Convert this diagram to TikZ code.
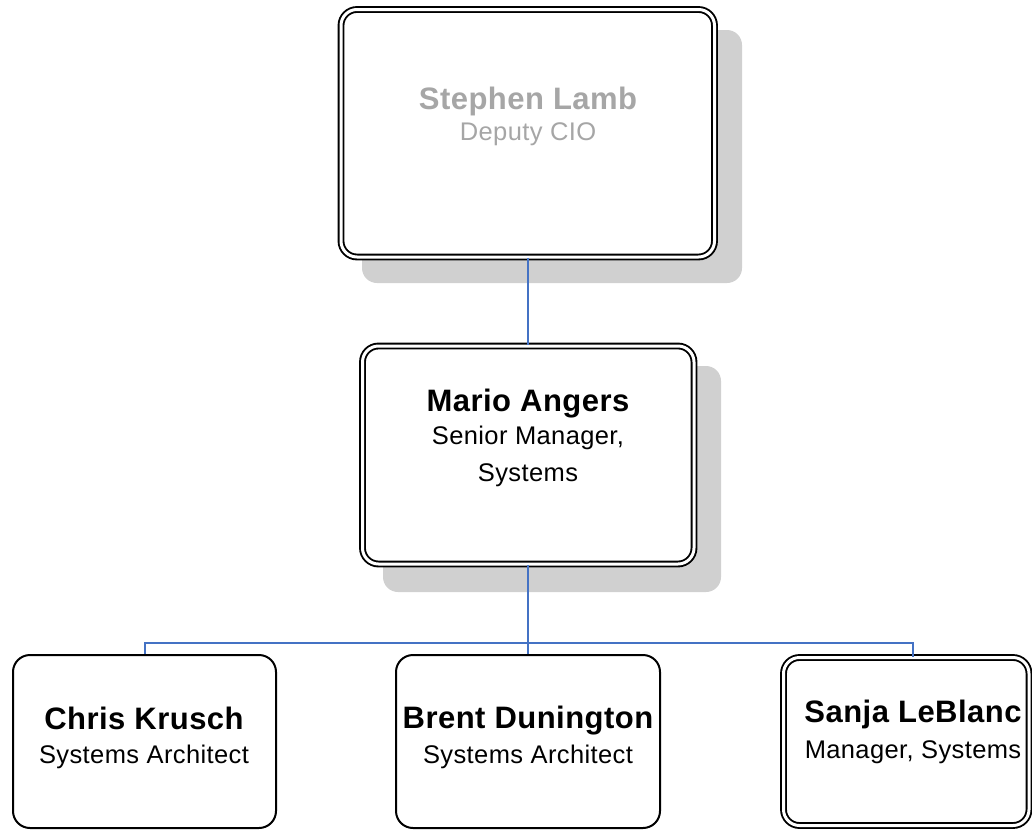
\documentclass[tikz,border=0pt]{standalone}
\usepackage{fontspec}
\setmainfont{Liberation Sans}[LetterSpace=1.5]
\usetikzlibrary{calc}
\definecolor{conn}{RGB}{68,114,196}
\definecolor{shadowgray}{RGB}{208,208,208}
\definecolor{dimtext}{RGB}{166,166,166}
\tikzset{
  sbox/.style={draw=black, line width=2pt, fill=white, rounded corners=17pt, inner sep=0pt},
  dbox/.style={draw=black, line width=1.9pt, double=white, double distance=3pt, fill=white, rounded corners=16pt, inner sep=0pt},
  shade/.style={fill=shadowgray, rounded corners=15pt},
  link/.style={draw=conn, line width=2pt},
  nametext/.style={anchor=base, inner sep=0pt, font=\bfseries\fontsize{31}{36}\selectfont},
  roletext/.style={anchor=base, inner sep=0pt, font=\fontsize{25.5}{30}\selectfont}
}
\begin{document}
\begin{tikzpicture}[x=1pt,y=-1pt]
\useasboundingbox (0,0) rectangle (1032,830);
% shadows
\fill[shade] (362,30) rectangle (742,283);
\fill[shade] (383,366) rectangle (721,592);
% boxes
\node[dbox, minimum width=373.5pt, minimum height=247.5pt] (b1) at (527.75,133.25) {};
\node[dbox, minimum width=331.5pt, minimum height=218pt] (b2) at (528.25,455) {};
\node[sbox, minimum width=263pt, minimum height=173pt] (b3) at (144.5,741.5) {};
\node[sbox, minimum width=264pt, minimum height=173pt] (b4) at (528,741.5) {};
\node[dbox, minimum width=245.5pt, minimum height=168pt] (b5) at (906.25,741.5) {};
% connectors
\coordinate (bus) at (528,643);
\coordinate (sanjatop) at ($(b5.north)+(6.75,0)$);
\draw[link] (b1.south) -- (b1.south |- b2.north);
\draw[link] (b2.south) -- (b2.south |- b4.north);
\draw[link] (bus) -| (b3.north);
\draw[link] (bus) -| (sanjatop);
% texts
\node[nametext, text=dimtext] (n1) at (528,109) {Stephen Lamb};
\node[roletext, text=dimtext] (r1) at (528,140) {Deputy CIO};
\node[nametext] (n2) at (528,411) {Mario Angers};
\node[roletext] (r2a) at (528,444) {Senior Manager,};
\node[roletext] (r2b) at (528,481) {Systems};
\node[nametext] (n3) at (144,729) {Chris Krusch};
\node[roletext] (r3) at (144,763) {Systems Architect};
\node[nametext] (n4) at (528,728) {Brent Dunington};
\node[roletext] (r4) at (528,763) {Systems Architect};
\node[nametext] (n5) at (913,722) {Sanja LeBlanc};
\node[roletext] (r5) at (913,758) {Manager, Systems};
\end{tikzpicture}
\end{document}
